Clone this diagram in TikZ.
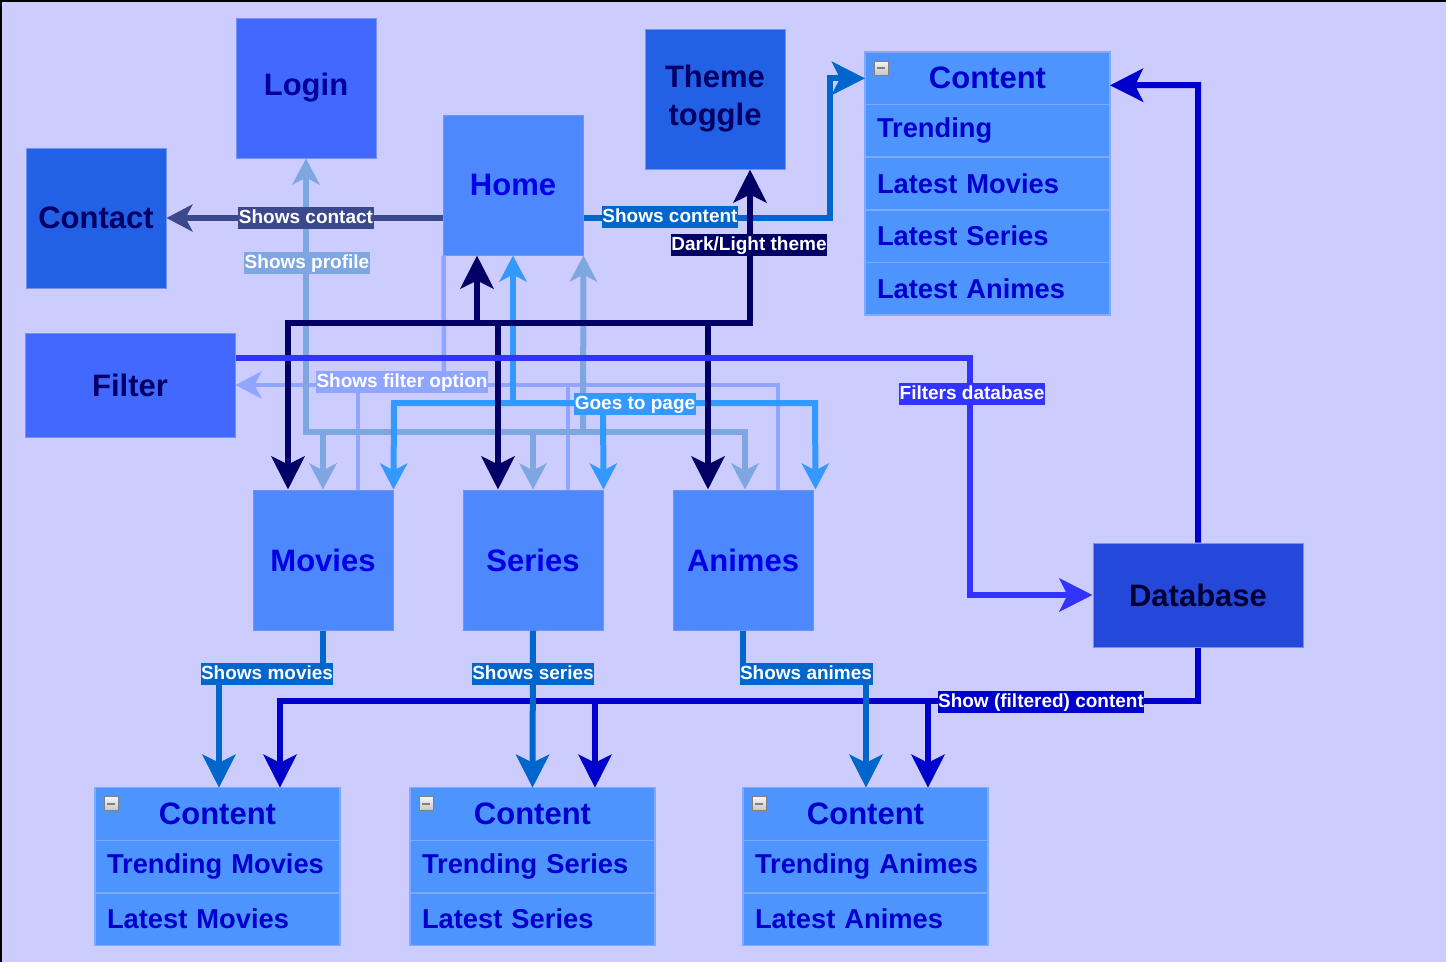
\documentclass[tikz,border=0pt]{standalone}
\usepackage{fontspec}
\setmainfont{Liberation Sans}
\usetikzlibrary{arrows.meta,calc,positioning}

\definecolor{bgpage}{HTML}{CCCCFF}
\definecolor{loginfill}{HTML}{4169FF}
\definecolor{darkfill}{HTML}{2260E5}
\definecolor{homefill}{HTML}{4D88FF}
\definecolor{tablefill}{HTML}{4D94FF}
\definecolor{tableedge}{HTML}{7FAAFF}
\definecolor{dbfill}{HTML}{2448D9}
\definecolor{boxedge}{HTML}{6F95F0}
\definecolor{navytext}{HTML}{000066}
\definecolor{logintext}{HTML}{000099}
\definecolor{bluetext}{HTML}{0000E6}
\definecolor{tabletext}{HTML}{0000CC}
\definecolor{dbtext}{HTML}{000033}
\definecolor{ctcline}{HTML}{3B488C}
\definecolor{profline}{HTML}{7EA6E0}
\definecolor{fltline}{HTML}{8FA5FF}
\definecolor{goline}{HTML}{3399FF}
\definecolor{cntline}{HTML}{0066CC}
\definecolor{thmline}{HTML}{000066}
\definecolor{fdbline}{HTML}{3333FF}
\definecolor{shwline}{HTML}{0000CC}

\tikzset{
   page/.style = {rectangle, draw=boxedge, line width=1pt, minimum width=140pt,
      minimum height=140pt, font=\fontsize{31}{38}\selectfont\bfseries},
   wide/.style = {page, minimum width=210pt, minimum height=104pt},
   cell/.style = {rectangle, draw=tableedge, line width=1.5pt, fill=tablefill,
      text=tabletext, minimum width=245pt, minimum height=52.6pt, inner sep=0pt,
      outer sep=0pt, font=\fontsize{27.3}{32}\selectfont\bfseries},
   head/.style = {cell, font=\fontsize{31}{36}\selectfont\bfseries},
   row/.style = {cell, text width=229pt, align=left,
      execute at begin node={\hspace*{4pt}}},
   minus/.style = {rectangle, draw=gray, line width=0.6pt, top color=gray!8,
      bottom color=gray!45, minimum size=14pt, inner sep=0pt,
      path picture={\draw[line width=2pt] ([xshift=-4pt]path picture bounding box.center)
         -- ([xshift=4pt]path picture bounding box.center);}},
   small/.style = {>={Stealth[length=26pt,width=27pt,inset=7pt]}},
   big/.style = {>={Stealth[length=33pt,width=33pt,inset=8pt]}},
   ctc/.style = {draw=ctcline, line width=6pt, small},
   prof/.style = {draw=profline, line width=6pt, small},
   flt/.style = {draw=fltline, line width=4.5pt, small},
   go/.style = {draw=goline, line width=6pt, small},
   thm/.style = {draw=thmline, line width=6pt, big},
   fdb/.style = {draw=fdbline, line width=6pt, big},
   cnt/.style = {draw=cntline, line width=6pt, big},
   shw/.style = {draw=shwline, line width=6pt, big},
   edgelabel/.style = {fill=#1, text=white, inner xsep=0.5pt, inner ysep=2pt,
      text height=14pt, text depth=4pt, font=\fontsize{19}{20}\selectfont\bfseries},
}

\begin{document}
\begin{tikzpicture}[x=1pt,y=-1pt]

      \useasboundingbox (0,0) rectangle (1446,962);
      \fill[bgpage] (0,0) rectangle (1446,962);
      \draw[black, line width=2pt] (1,962) -- (1,1) -- (1446,1);

      % pages
      \node[page, fill=loginfill, text=logintext] (login)   at (306,88)  {Login};
      \node[page, fill=darkfill,  text=navytext]  (contact) at (96,218)  {Contact};
      \node[page, fill=homefill,  text=bluetext]  (home)    at (513,185) {Home};
      \node[page, fill=darkfill,  text=navytext, align=center] (theme) at (715,99) {Theme\\toggle};
      \node[wide, fill=loginfill, text=navytext]  (filter)  at (130,385) {Filter};
      \node[page, fill=homefill,  text=bluetext]  (movies)  at (323,560) {Movies};
      \node[page, fill=homefill,  text=bluetext]  (series)  at (533,560) {Series};
      \node[page, fill=homefill,  text=bluetext]  (animes)  at (743,560) {Animes};
      \node[wide, fill=dbfill,    text=dbtext]    (db)      at (1198,595) {Database};

      % content tables
      \node[head] (cmain) at (987.5,78.3) {Content};
      \node[row, below=0pt of cmain] (cmain1) {Trending};
      \node[row, below=0pt of cmain1] (cmain2) {Latest Movies};
      \node[row, below=0pt of cmain2] (cmain3) {Latest Series};
      \node[row, below=0pt of cmain3] (cmain4) {Latest Animes};
      \node[minus] (cmainbox) at ($(cmain.north west)+(16,16)$) {};

      \node[head] (mcont) at (217.5,814) {Content};
      \node[row, below=0pt of mcont] (mcont1) {Trending Movies};
      \node[row, below=0pt of mcont1] (mcont2) {Latest Movies};
      \node[minus] (mcontbox) at ($(mcont.north west)+(16,16)$) {};

      \node[head] (scont) at (532.5,814) {Content};
      \node[row, below=0pt of scont] (scont1) {Trending Series};
      \node[row, below=0pt of scont1] (scont2) {Latest Series};
      \node[minus] (scontbox) at ($(scont.north west)+(16,16)$) {};

      \node[head] (acont) at (865.5,814) {Content};
      \node[row, below=0pt of acont] (acont1) {Trending Animes};
      \node[row, below=0pt of acont1] (acont2) {Latest Animes};
      \node[minus] (acontbox) at ($(acont.north west)+(16,16)$) {};

      % connectors
      \draw[flt,->] ([xshift=35]animes.north) -- (778,385) -- (filter.east);
      \draw[flt]    ([xshift=35]movies.north) -- (358,385);
      \draw[flt]    ([xshift=35]series.north) -- (568,385);
      \draw[flt]    ([xshift=1]home.south west) -- (444,385);

      \draw[prof,<->] (login.south) -- (306,432) -- (745,432) -- ([xshift=2]animes.north);
      \draw[prof,->]  (323,432) -- (movies.north);
      \draw[prof,->]  (533,432) -- (series.north);
      \draw[prof,->]  (583,432) -- (home.south east);

      \draw[go,<->] (movies.north east) -- (394,403) -- (815,403) -- ([xshift=2]animes.north east);
      \draw[go,->]  (513,403) -- (home.south);
      \draw[go,->]  (603,403) -- (series.north east);

      \draw[ctc,->] ([yshift=-33]home.west) -- (contact.east);
      \draw[cnt,->] ([yshift=-33]home.east) -- (830,218) -- (830,78.3) -- (cmain.west);

      \draw[thm,<->] ([xshift=-35]movies.north) -- (288,323) -- (750,323) -- ([xshift=35]theme.south);
      \draw[thm,->]  (498,323) -- ([xshift=-35]series.north);
      \draw[thm,->]  (708,323) -- ([xshift=-35]animes.north);
      \draw[thm,->]  (477,323) -- ([xshift=-36]home.south);

      \draw[fdb,->] ([yshift=27]filter.east) -- (970,358) -- (970,595) -- (db.west);

      \draw[shw,->] (db.north) -- (1198,85) -- ([yshift=-7]cmain.east);
      \draw[shw,->] (db.south) -- (1198,701) -- (280,701) -- ([xshift=62.5]mcont.north);
      \draw[shw,->] (595,701) -- ([xshift=62.5]scont.north);
      \draw[shw,->] (928,701) -- ([xshift=62.5]acont.north);

      \draw[cnt,->] (movies.south) -- (323,674) -- (219,674) -- ([xshift=1.5]mcont.north);
      \draw[cnt,->] (series.south) -- (scont.north);
      \draw[cnt,->] (animes.south) -- (743,674) -- (866,674) -- ([xshift=0.5]acont.north);

      % labels
      \node[edgelabel=ctcline]  (lcontact) at (306,218) {Shows contact};
      \node[edgelabel=profline] (lprofile) at (307,263) {Shows profile};
      \node[edgelabel=fltline]  (lfilter)  at (402,382) {Shows filter option};
      \node[edgelabel=goline]   (lgo)      at (635,404) {Goes to page};
      \node[edgelabel=cntline]  (lcontent) at (670,217) {Shows content};
      \node[edgelabel=thmline]  (ltheme)   at (749,245) {Dark/Light theme};
      \node[edgelabel=fdbline]  (lfdb)     at (972,394) {Filters database};
      \node[edgelabel=cntline]  (lmovies)  at (267,674) {Shows movies};
      \node[edgelabel=cntline]  (lseries)  at (533,674) {Shows series};
      \node[edgelabel=cntline]  (lanimes)  at (806,674) {Shows animes};
      \node[edgelabel=shwline]  (lshow)    at (1041,702) {Show (filtered) content};

\end{tikzpicture}
\end{document}
